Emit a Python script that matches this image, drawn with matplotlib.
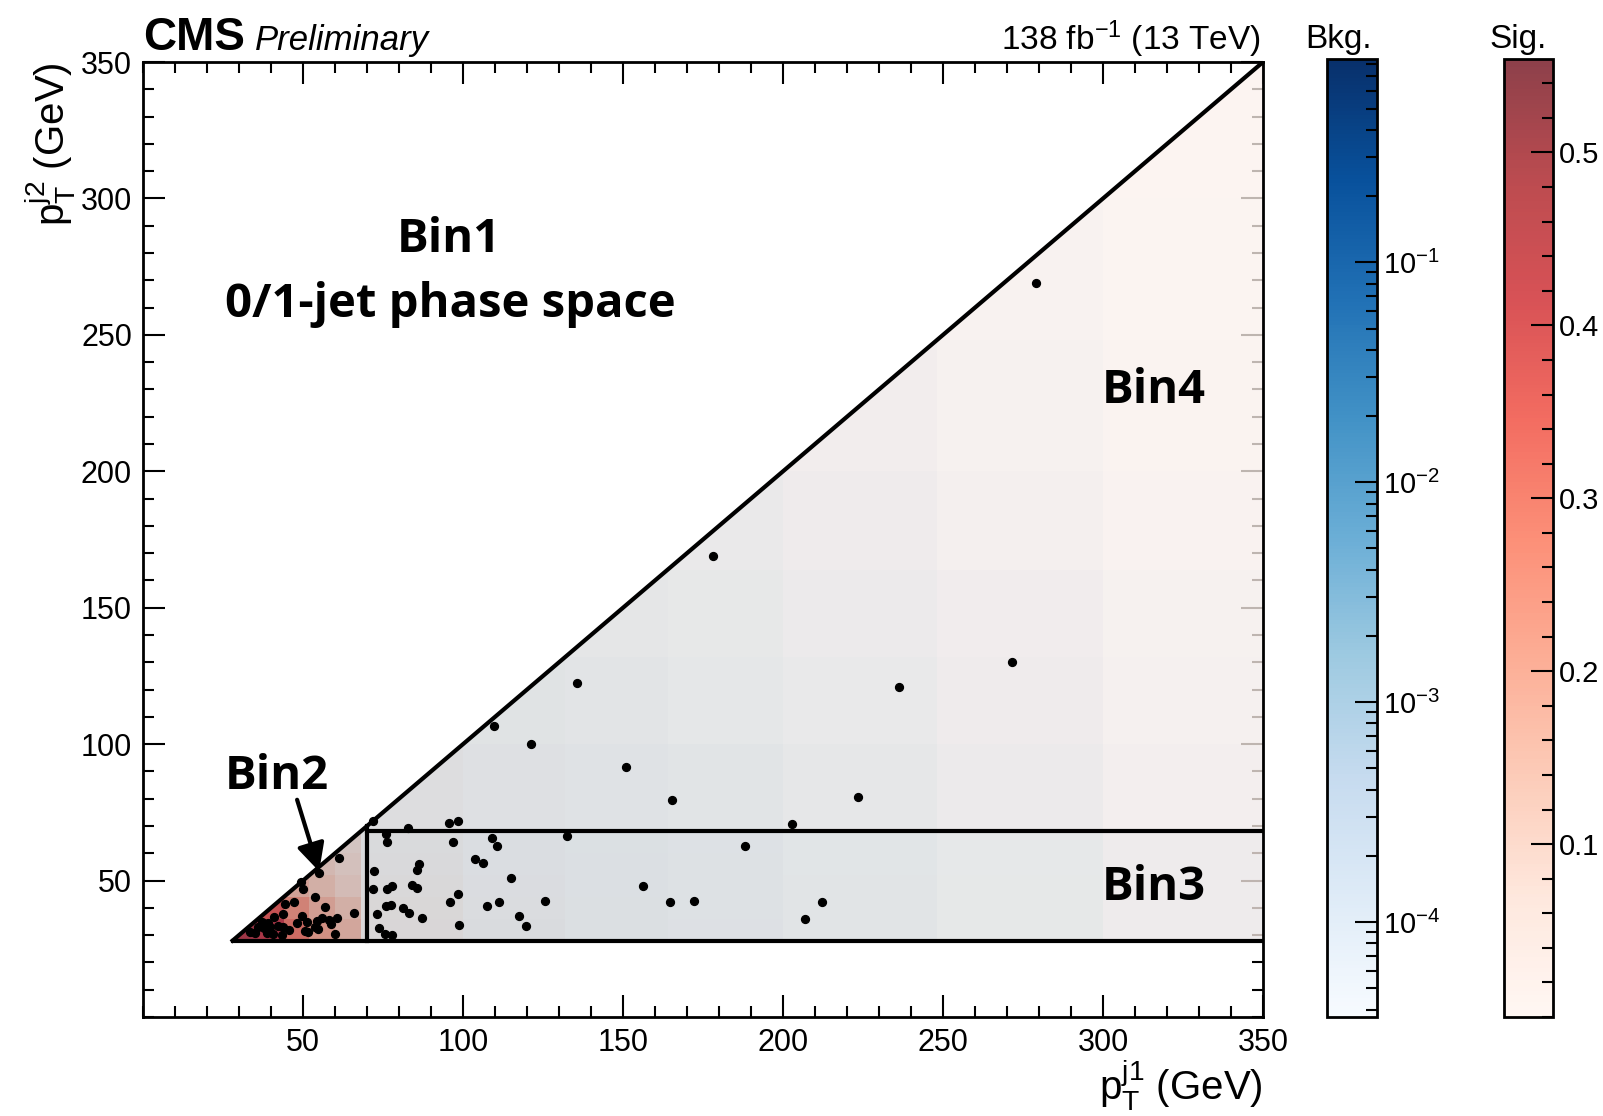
import numpy as np
import matplotlib
matplotlib.use('Agg')
import matplotlib.pyplot as plt
from matplotlib.colors import LogNorm, Normalize
from matplotlib.patches import Polygon
from matplotlib.ticker import MultipleLocator, FixedLocator, LogLocator

plt.rcParams['font.family'] = 'Liberation Sans'
plt.rcParams['mathtext.fontset'] = 'custom'
plt.rcParams['mathtext.rm'] = 'Liberation Sans'
plt.rcParams['mathtext.it'] = 'Liberation Sans:italic'
plt.rcParams['mathtext.bf'] = 'Liberation Sans:bold'

# coarse block edges (GeV) used to read the histogram levels off the picture
block_edges = [28, 36, 44, 52, 60, 68, 100, 132, 164, 200, 248, 300, 352]

# signal level per block, rows = pT(j2) blocks, cols = pT(j1) blocks
sig_table = [
    [0.45, 0.42, 0.30, 0.22, 0.17, 0.060, 0.035, 0.025, 0.020, 0.015, 0.012, 0.010],
    [0, 0.35, 0.25, 0.19, 0.15, 0.055, 0.032, 0.024, 0.018, 0.014, 0.011, 0.010],
    [0, 0, 0.18, 0.15, 0.12, 0.050, 0.030, 0.022, 0.017, 0.013, 0.011, 0.010],
    [0, 0, 0, 0.13, 0.11, 0.045, 0.028, 0.020, 0.016, 0.012, 0.010, 0.009],
    [0, 0, 0, 0, 0.10, 0.040, 0.026, 0.019, 0.015, 0.012, 0.010, 0.009],
    [0, 0, 0, 0, 0, 0.035, 0.022, 0.017, 0.014, 0.011, 0.010, 0.008],
    [0, 0, 0, 0, 0, 0, 0.018, 0.015, 0.012, 0.010, 0.009, 0.008],
    [0, 0, 0, 0, 0, 0, 0, 0.013, 0.011, 0.010, 0.009, 0.008],
    [0, 0, 0, 0, 0, 0, 0, 0, 0.010, 0.009, 0.008, 0.008],
    [0, 0, 0, 0, 0, 0, 0, 0, 0, 0.009, 0.008, 0.007],
    [0, 0, 0, 0, 0, 0, 0, 0, 0, 0, 0.008, 0.007],
    [0, 0, 0, 0, 0, 0, 0, 0, 0, 0, 0, 0.007],
]

bkg_table = [
    [1.2e-2, 1.2e-2, 1.2e-2, 1.1e-2, 1e-2, 5e-3, 5e-3, 4.5e-3, 4e-3, 2.5e-3, 1.5e-3, 6e-4],
    [0, 1.2e-2, 1.2e-2, 1.1e-2, 1e-2, 5e-3, 5e-3, 4.5e-3, 4e-3, 2.5e-3, 1.5e-3, 6e-4],
    [0, 0, 1.1e-2, 1e-2, 1e-2, 5e-3, 5e-3, 4.5e-3, 4e-3, 2.5e-3, 1.5e-3, 6e-4],
    [0, 0, 0, 1e-2, 9e-3, 5e-3, 5e-3, 4.5e-3, 4e-3, 2.5e-3, 1.5e-3, 6e-4],
    [0, 0, 0, 0, 9e-3, 5e-3, 5e-3, 4.5e-3, 4e-3, 2.5e-3, 1.5e-3, 6e-4],
    [0, 0, 0, 0, 0, 3.5e-3, 3.5e-3, 3e-3, 2.5e-3, 1.6e-3, 8e-4, 2.5e-4],
    [0, 0, 0, 0, 0, 0, 2.8e-3, 2.4e-3, 1.8e-3, 1.1e-3, 5e-4, 1.6e-4],
    [0, 0, 0, 0, 0, 0, 0, 1.8e-3, 1.4e-3, 8e-4, 3.5e-4, 1.2e-4],
    [0, 0, 0, 0, 0, 0, 0, 0, 1e-3, 5e-4, 2e-4, 8e-5],
    [0, 0, 0, 0, 0, 0, 0, 0, 0, 3e-4, 1.2e-4, 6e-5],
    [0, 0, 0, 0, 0, 0, 0, 0, 0, 0, 9e-5, 5e-5],
    [0, 0, 0, 0, 0, 0, 0, 0, 0, 0, 0, 4e-5],
]

# data events (pT j1, pT j2) in GeV
dot_x = [279, 178, 135.5, 271.6, 236.4, 109.6, 121.4, 151, 165.3, 223.4, 202.8,
         72, 82.9, 95.6, 98.5,
         75.9, 76.3, 97, 109.2, 110.5, 132.4, 188, 103.9, 106.3, 86.4, 85.7, 72.1,
         115.1, 71.8, 76.1, 77.7, 84, 85.5, 98.5, 156.4, 95.9, 107.4, 111.2, 125.6,
         75.9, 77.4, 81.3, 83.2, 87.2, 73, 73.6, 75.7, 77.8, 98.8, 117.5, 119.6,
         164.8, 172.2, 212.3, 206.9,
         61.4, 55.1, 49.5, 50, 53.9, 47.3, 44.4, 56.9, 66, 43.8, 49.8, 41, 55.8,
         54.3, 58.1, 60.5, 51.1, 48, 58.9, 37.1, 39.2, 36, 37.9, 39.7, 42.3, 43.8,
         53.8, 54.6, 45.6, 50.6, 51.7, 33.4, 35, 38.7, 40.7, 43.3, 60]
dot_y = [269, 169, 122.4, 130, 121, 106.7, 100, 91.7, 79.6, 80.5, 70.6,
         72, 69.2, 71, 71.7,
         67, 64.3, 64.1, 65.7, 62.6, 66.3, 62.8, 57.9, 56.6, 56.1, 53.8, 53.6,
         51.1, 46.8, 47, 48.1, 48.4, 47.2, 45.2, 48, 42, 40.7, 42, 42.5,
         40.8, 40.9, 40.1, 38.2, 36.2, 37.9, 32.6, 30.5, 29.9, 33.8, 37, 33.5,
         42.3, 42.6, 42, 35.9,
         58.3, 52.7, 49.3, 47, 44.1, 42, 41.3, 40.2, 38.2, 37.7, 37, 36.8, 36.2,
         35.3, 35.5, 36.2, 34.9, 34.6, 34.1, 34.9, 34.3, 32.9, 32.5, 33.1, 33.4, 32.9,
         32.9, 32.1, 31.9, 31.6, 31.3, 31.3, 30.7, 30.7, 30.4, 30.1, 30.3]

# fine 4 GeV binning, each fine bin takes the level of the block it sits in
edges = np.arange(28, 353, 4)
centers = 0.5 * (edges[:-1] + edges[1:])
blk = np.searchsorted(block_edges, centers, side='right') - 1
sig = np.array(sig_table)[np.ix_(blk, blk)]
bkg = np.array(bkg_table)[np.ix_(blk, blk)]
jj, ii = np.meshgrid(np.arange(len(centers)), np.arange(len(centers)), indexing='ij')
upper = jj > ii
sig = np.ma.masked_where(upper | (sig <= 0), sig)
bkg = np.ma.masked_where(upper | (bkg <= 0), bkg)

fig = plt.figure(figsize=(16.03, 11.16), dpi=100)
ax = fig.add_axes([0.0892, 0.0887, 0.6987, 0.8557])
cax_b = fig.add_axes([0.8278, 0.0887, 0.0312, 0.8584])
cax_s = fig.add_axes([0.9382, 0.0887, 0.0306, 0.8584])

tri = Polygon([(28, 28), (352, 28), (352, 352)], closed=True, transform=ax.transData)

mb = ax.pcolormesh(edges, edges, bkg, cmap='Blues', norm=LogNorm(3.7e-5, 0.84),
                   linewidth=0, antialiased=False, zorder=1)
ms = ax.pcolormesh(edges, edges, sig, cmap='Reds', norm=Normalize(0, 0.554),
                   alpha=0.75, linewidth=0, antialiased=False, zorder=2)
mb.set_clip_path(tri)
ms.set_clip_path(tri)

ax.scatter(dot_x, dot_y, s=32, c='k', zorder=5)

lw = 3
ax.plot([28, 350], [28, 350], color='k', lw=lw, zorder=4)
ax.plot([28, 350], [28, 28], color='k', lw=lw, zorder=4)
ax.plot([70, 70], [28, 70], color='k', lw=lw, zorder=4)
ax.plot([70, 350], [68, 68], color='k', lw=lw, zorder=4)

bin_font = dict(family='Open Sans', weight='bold', fontsize=34, color='k')
ax.text(95.5, 285, 'Bin1', ha='center', va='center', **bin_font)
ax.text(96, 261, '0/1-jet phase space', ha='center', va='center', **bin_font)
ax.text(25.5, 88, 'Bin2', ha='left', va='center', **bin_font)
ax.text(315.8, 229.5, 'Bin4', ha='center', va='center', **bin_font)
ax.text(315.8, 47.5, 'Bin3', ha='center', va='center', **bin_font)
ax.annotate('', xy=(55.3, 52.4), xytext=(47.9, 80.6),
            arrowprops=dict(arrowstyle='-|>', lw=3, color='k', mutation_scale=42),
            zorder=6)

ax.set_xlim(0, 350)
ax.set_ylim(0, 350)
ax.xaxis.set_major_locator(FixedLocator([50, 100, 150, 200, 250, 300, 350]))
ax.yaxis.set_major_locator(FixedLocator([50, 100, 150, 200, 250, 300, 350]))
ax.xaxis.set_minor_locator(MultipleLocator(10))
ax.yaxis.set_minor_locator(MultipleLocator(10))
ax.tick_params(which='both', direction='in', top=True, right=True, width=1.5, labelsize=22)
ax.tick_params(which='major', length=16, pad=8)
ax.tick_params(which='minor', length=8)
for sp in ax.spines.values():
    sp.set_linewidth(2)

ax.set_xlabel(r'$\mathrm{p}_{\mathrm{T}}^{\mathrm{j1}}$ (GeV)', fontsize=29, loc='right', labelpad=0)
ax.set_ylabel(r'$\mathrm{p}_{\mathrm{T}}^{\mathrm{j2}}$ (GeV)', fontsize=29, loc='top', labelpad=2)

fig.text(0.0892, 0.955, 'CMS', fontsize=33, weight='bold', ha='left', va='baseline')
fig.text(0.159, 0.955, 'Preliminary', fontsize=25, style='italic', ha='left', va='baseline')
fig.text(0.7867, 0.955, r'138 fb$^{-1}$ (13 TeV)', fontsize=24, ha='right', va='baseline')
fig.text(0.856, 0.957, 'Bkg.', fontsize=24, ha='right', va='baseline')
fig.text(0.965, 0.957, 'Sig.', fontsize=24, ha='right', va='baseline')

cb_b = fig.colorbar(mb, cax=cax_b)
cb_b.set_ticks([1e-4, 1e-3, 1e-2, 1e-1])
cb_b.ax.yaxis.set_minor_locator(LogLocator(base=10, subs=np.arange(2, 10)))
cb_s = fig.colorbar(ms, cax=cax_s)
cb_s.set_ticks([0.1, 0.2, 0.3, 0.4, 0.5])
cb_s.ax.yaxis.set_minor_locator(MultipleLocator(0.02))
for cb in (cb_b, cb_s):
    cb.outline.set_linewidth(2)
    cb.ax.tick_params(which='both', direction='in', width=1.5, labelsize=21)
    cb.ax.tick_params(which='major', length=16, pad=4)
    cb.ax.tick_params(which='minor', length=8)

fig.savefig('out.png', dpi=100)
